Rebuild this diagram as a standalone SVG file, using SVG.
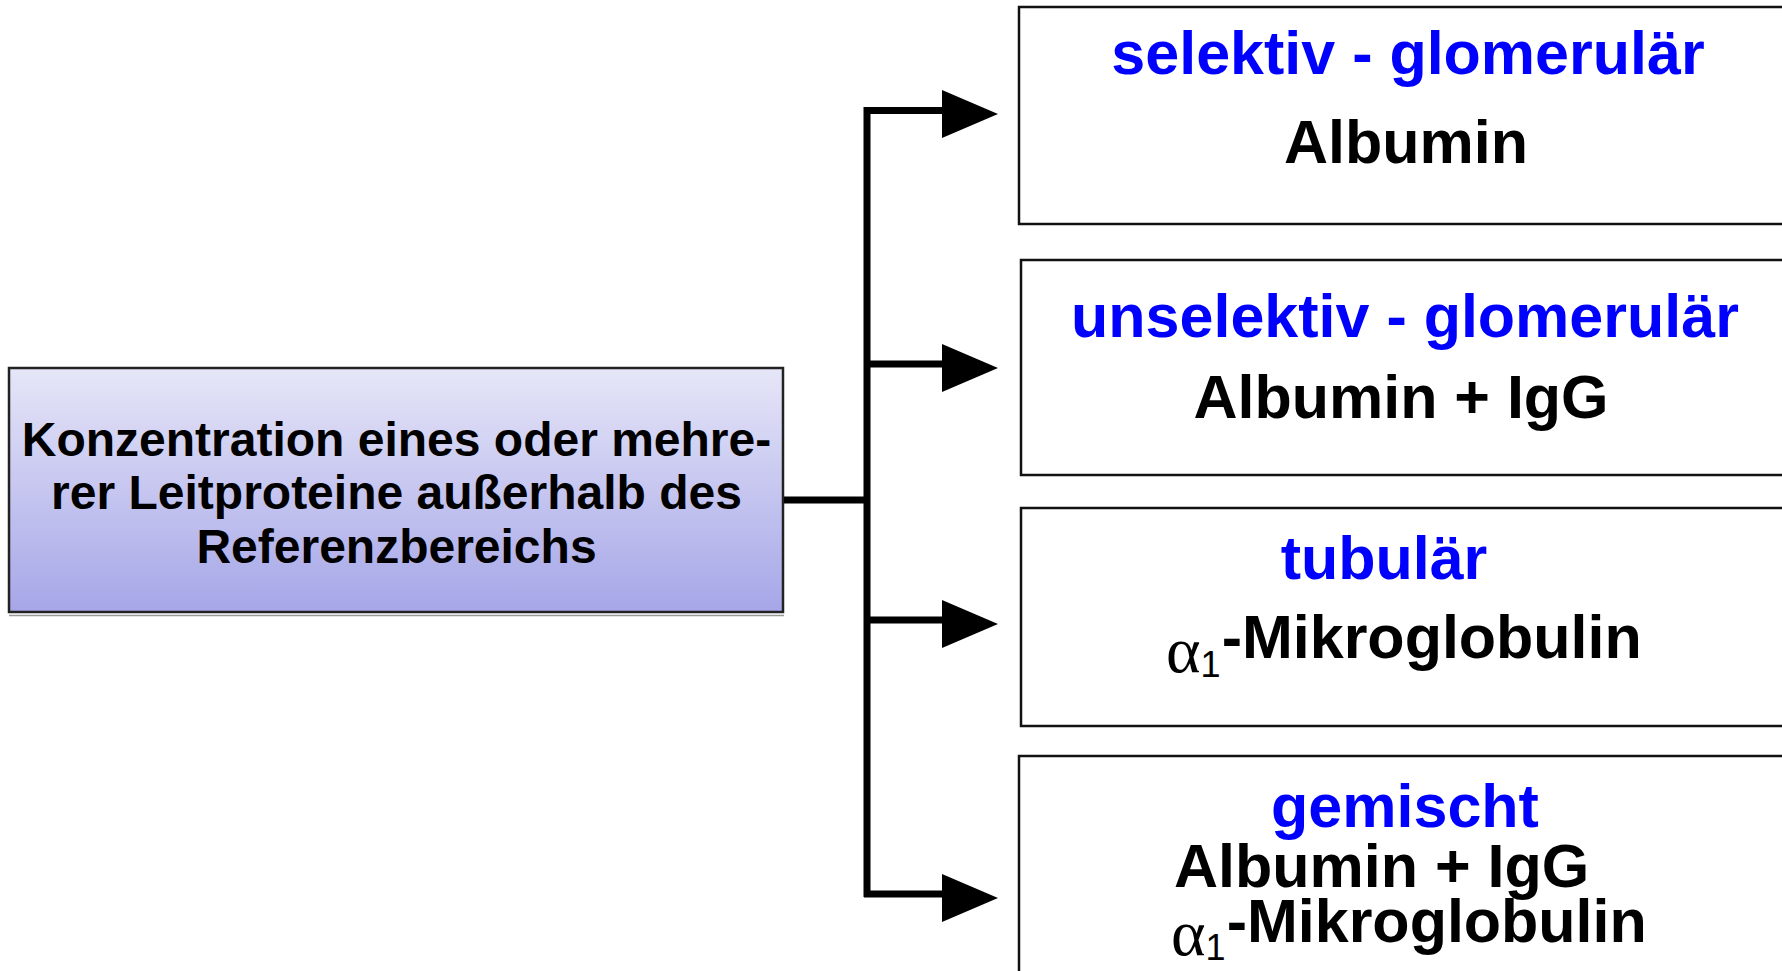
<svg xmlns="http://www.w3.org/2000/svg" width="1782" height="971" viewBox="0 0 1782 971">
<defs>
<linearGradient id="lg" x1="0" y1="0" x2="0" y2="1">
<stop offset="0" stop-color="#e6e6f8"/>
<stop offset="1" stop-color="#a6a6e8"/>
</linearGradient>
</defs>
<style>
.box{fill:#fff;stroke:#111;stroke-width:2.5}
.t{font-family:"Liberation Sans",Arial,sans-serif;font-weight:bold;text-anchor:middle}
.s{text-anchor:start}
.blue{fill:#0000ff;font-size:61px}
.blk{fill:#000;font-size:61px}
.ln{stroke:#000;stroke-width:7;fill:none}
.ah{fill:#000}
.al{font-family:"Liberation Serif","Times New Roman",serif;font-weight:normal;font-size:66px}
.sub{font-family:"Liberation Sans",Arial,sans-serif;font-weight:normal;font-size:36px}
</style>
<rect width="1782" height="971" fill="#fff"/>
<g id="source">
<line x1="9" y1="615.5" x2="784" y2="615.5" stroke="#999" stroke-width="1.5"/>
<rect x="9" y="368" width="774" height="244" fill="url(#lg)" stroke="#222" stroke-width="2.5"/>
<text class="t" font-size="48" fill="#000"><tspan x="396.5" y="456">Konzentration eines oder mehre-</tspan><tspan x="396.5" y="509">rer Leitproteine außerhalb des</tspan><tspan x="396.5" y="563">Referenzbereichs</tspan></text>
</g>
<g id="connectors">
<path class="ln" d="M784 500 H867 M867 107 V897 M864 110.5 H943 M864 364 H943 M864 620 H943 M864 894 H943"/>
<polygon class="ah" points="942,90 942,138 998,114"/>
<polygon class="ah" points="942,344 942,392 998,368"/>
<polygon class="ah" points="942,600 942,648 998,624"/>
<polygon class="ah" points="942,874 942,922 998,898"/>
</g>
<g id="selektiv">
<rect class="box" x="1019" y="7" width="800" height="217"/>
<text class="t blue" x="1408" y="74">selektiv - glomerulär</text>
<text class="t blk" x="1406" y="163">Albumin</text>
</g>
<g id="unselektiv">
<rect class="box" x="1021" y="260" width="800" height="215"/>
<text class="t blue" x="1405" y="337">unselektiv - glomerulär</text>
<text class="t blk" x="1401" y="418">Albumin + IgG</text>
</g>
<g id="tubulaer">
<rect class="box" x="1021" y="508" width="800" height="218"/>
<text class="t blue" x="1384" y="579">tubulär</text>
<text class="t s blk" x="1166" y="658"><tspan class="al" dy="14">α</tspan><tspan class="sub" dy="5">1</tspan><tspan dx="1" dy="-19">-Mikroglobulin</tspan></text>
</g>
<g id="gemischt">
<rect class="box" x="1019" y="756" width="800" height="240"/>
<text class="t blue" x="1405" y="827">gemischt</text>
<text class="t s blk" x="1174" y="887">Albumin + IgG</text>
<text class="t s blk" x="1171" y="942"><tspan class="al" dy="13">α</tspan><tspan class="sub" dy="5">1</tspan><tspan dx="1" dy="-18">-Mikroglobulin</tspan></text>
</g>
</svg>
